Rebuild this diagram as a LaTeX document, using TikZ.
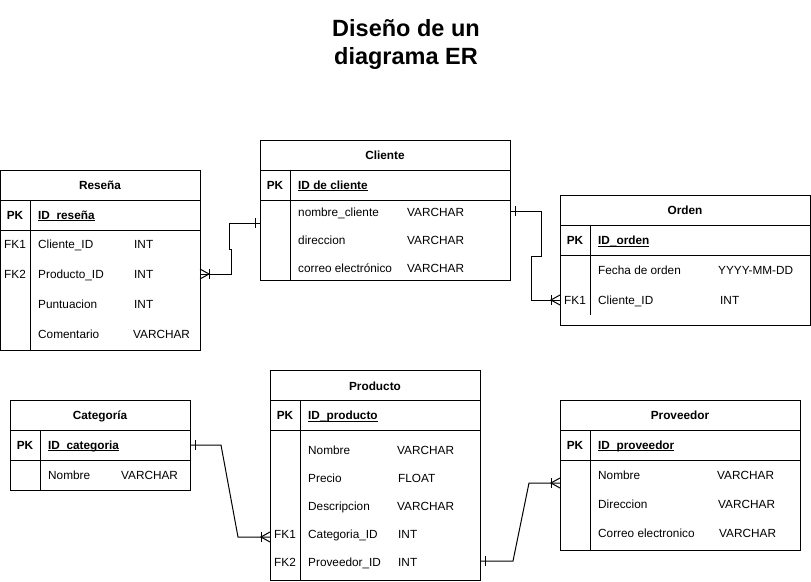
\documentclass[tikz,border=0pt]{standalone}
\usepackage{fontspec}
\setmainfont{Liberation Sans}
\newcommand{\keyul}[1]{\setbox0\hbox{#1}\rlap{\rule[-1.7pt]{\wd0}{0.8pt}}\box0}
\tikzset{
    tablebox/.style={
        draw=black,
        line width=1pt,
        rectangle,
        inner sep=0pt,
        outer sep=0pt,
        anchor=north west,
    },
    cell/.style={
        font=\fontsize{11.8}{14}\selectfont,
        inner sep=0pt,
        text height=8.4pt,
        text depth=0pt,
    },
    tablehead/.style={
        cell,
        font=\fontsize{11.8}{14}\selectfont\bfseries,
    },
    keycell/.style={cell},
    pkcell/.style={
        cell,
        font=\fontsize{11.8}{14}\selectfont\bfseries,
    },
    fieldcell/.style={
        cell,
        anchor=west,
    },
    pkfield/.style={
        fieldcell,
        font=\fontsize{11.8}{14}\selectfont\bfseries,
    },
    maintitle/.style={
        font=\fontsize{23.5}{28}\selectfont\bfseries,
        align=center,
        inner sep=0pt,
    },
    rel/.style={
        draw=black,
        line width=1pt,
    },
    crowmany/.pic={
        \draw[rel] (0,-5) -- (9,0) -- (0,5);
        \draw[rel] (9,-5) -- (9,5);
    },
    onebar/.pic={
        \draw[rel] (5,-5) -- (5,5);
    },
}

\begin{document}
\begin{tikzpicture}[x=1pt, y=-1pt]
    \useasboundingbox (0,0) rectangle (811,581);

    \node[maintitle] (title) at (406,44) {Diseño de un\\diagrama ER};

    \node[tablebox, minimum width=200pt, minimum height=180pt] (resena) at (0,170) {};
    \draw[rel] (0,200) -- (200,200);
    \draw[rel] (0,230) -- (200,230);
    \draw[rel] (30,200) -- (30,350);
    \node[tablehead] (rs-head) at (100,185) {Reseña};
    \node[pkcell] (rs-pk) at (15,215) {PK};
    \node[pkfield] (rs-id) at (38,215) {\keyul{ID\_reseña}};
    \node[keycell] (rs-fk1) at (15,244) {FK1};
    \node[fieldcell] (rs-cli) at (38,244) {Cliente\_ID};
    \node[fieldcell] (rs-cli-t) at (134,244) {INT};
    \node[keycell] (rs-fk2) at (15,274) {FK2};
    \node[fieldcell] (rs-prod) at (38,274) {Producto\_ID};
    \node[fieldcell] (rs-prod-t) at (134,274) {INT};
    \node[fieldcell] (rs-punt) at (38,304) {Puntuacion};
    \node[fieldcell] (rs-punt-t) at (134,304) {INT};
    \node[fieldcell] (rs-com) at (38,334) {Comentario};
    \node[fieldcell] (rs-com-t) at (133,334) {VARCHAR};

    \node[tablebox, minimum width=250pt, minimum height=140pt] (cliente) at (260,140) {};
    \draw[rel] (260,170) -- (510,170);
    \draw[rel] (260,200) -- (510,200);
    \draw[rel] (290,170) -- (290,280);
    \node[tablehead] (cl-head) at (385,155) {Cliente};
    \node[pkcell] (cl-pk) at (275,185) {PK};
    \node[pkfield] (cl-id) at (298,185) {\keyul{ID de cliente}};
    \node[fieldcell] (cl-nom) at (298,212.5) {nombre\_cliente};
    \node[fieldcell] (cl-nom-t) at (407,212.5) {VARCHAR};
    \node[fieldcell] (cl-dir) at (298,240) {direccion};
    \node[fieldcell] (cl-dir-t) at (407,240) {VARCHAR};
    \node[fieldcell] (cl-cor) at (298,268) {correo electrónico};
    \node[fieldcell] (cl-cor-t) at (407,268) {VARCHAR};

    \node[tablebox, minimum width=250pt, minimum height=130pt] (orden) at (560,195) {};
    \draw[rel] (560,225) -- (810,225);
    \draw[rel] (560,255) -- (810,255);
    \draw[rel] (590,225) -- (590,315);
    \node[tablehead] (or-head) at (685,210.5) {Orden};
    \node[pkcell] (or-pk) at (575,240.5) {PK};
    \node[pkfield] (or-id) at (598,240.5) {\keyul{ID\_orden}};
    \node[fieldcell] (or-fec) at (598,270) {Fecha de orden};
    \node[fieldcell] (or-fec-t) at (718,270) {YYYY-MM-DD};
    \node[keycell] (or-fk1) at (575,300) {FK1};
    \node[fieldcell] (or-cli) at (598,300) {Cliente\_ID};
    \node[fieldcell] (or-cli-t) at (720,300) {INT};

    \node[tablebox, minimum width=180pt, minimum height=90pt] (categoria) at (10,400) {};
    \draw[rel] (10,430) -- (190,430);
    \draw[rel] (10,460) -- (190,460);
    \draw[rel] (40,430) -- (40,490);
    \node[tablehead] (ca-head) at (100,415) {Categoría};
    \node[pkcell] (ca-pk) at (25,445) {PK};
    \node[pkfield] (ca-id) at (48,445) {\keyul{ID\_categoria}};
    \node[fieldcell] (ca-nom) at (48,475) {Nombre};
    \node[fieldcell] (ca-nom-t) at (121,475) {VARCHAR};

    \node[tablebox, minimum width=210pt, minimum height=210pt] (producto) at (270,370) {};
    \draw[rel] (270,400) -- (480,400);
    \draw[rel] (270,430) -- (480,430);
    \draw[rel] (300,400) -- (300,580);
    \node[tablehead] (pr-head) at (375,386) {Producto};
    \node[pkcell] (pr-pk) at (285,415.5) {PK};
    \node[pkfield] (pr-id) at (308,415.5) {\keyul{ID\_producto}};
    \node[fieldcell] (pr-nom) at (308,450) {Nombre};
    \node[fieldcell] (pr-nom-t) at (397,450) {VARCHAR};
    \node[fieldcell] (pr-pre) at (308,478) {Precio};
    \node[fieldcell] (pr-pre-t) at (398,478) {FLOAT};
    \node[fieldcell] (pr-des) at (308,506) {Descripcion};
    \node[fieldcell] (pr-des-t) at (397,506) {VARCHAR};
    \node[keycell] (pr-fk1) at (285,534) {FK1};
    \node[fieldcell] (pr-cat) at (308,534) {Categoria\_ID};
    \node[fieldcell] (pr-cat-t) at (398,534) {INT};
    \node[keycell] (pr-fk2) at (285,562) {FK2};
    \node[fieldcell] (pr-prov) at (308,562) {Proveedor\_ID};
    \node[fieldcell] (pr-prov-t) at (398,562) {INT};

    \node[tablebox, minimum width=240pt, minimum height=150pt] (proveedor) at (560,400) {};
    \draw[rel] (560,430) -- (800,430);
    \draw[rel] (560,460) -- (800,460);
    \draw[rel] (590,430) -- (590,550);
    \node[tablehead] (pv-head) at (680,415) {Proveedor};
    \node[pkcell] (pv-pk) at (575,445) {PK};
    \node[pkfield] (pv-id) at (598,445) {\keyul{ID\_proveedor}};
    \node[fieldcell] (pv-nom) at (598,475) {Nombre};
    \node[fieldcell] (pv-nom-t) at (717,475) {VARCHAR};
    \node[fieldcell] (pv-dir) at (598,504) {Direccion};
    \node[fieldcell] (pv-dir-t) at (718,504) {VARCHAR};
    \node[fieldcell] (pv-cor) at (598,533.5) {Correo electronico};
    \node[fieldcell] (pv-cor-t) at (719,533.5) {VARCHAR};

    \draw[rel] (resena.east |- rs-prod) -- ++(31,0) -- ++(0,-25) -- ++(-2,0) |- (cliente.west |- 0,223);
    \pic at (resena.east |- rs-prod) {crowmany};
    \pic[xscale=-1] at (cliente.west |- 0,223) {onebar};

    \draw[rel] (cliente.east |- 0,211) -- (541,211) -- (541,256) -- (531,256) |- (orden.west |- or-cli);
    \pic at (cliente.east |- 0,211) {onebar};
    \pic[xscale=-1] at (orden.west |- or-cli) {crowmany};

    \draw[rel] (categoria.east |- ca-id) -- (221,445) -- (238,537) -- (producto.west |- 0,537);
    \pic at (categoria.east |- ca-id) {onebar};
    \pic[xscale=-1] at (producto.west |- 0,537) {crowmany};

    \draw[rel] (producto.east |- 0,561) -- (513,561) -- (529,483) -- (proveedor.west |- 0,483);
    \pic at (producto.east |- 0,561) {onebar};
    \pic[xscale=-1] at (proveedor.west |- 0,483) {crowmany};
\end{tikzpicture}
\end{document}
